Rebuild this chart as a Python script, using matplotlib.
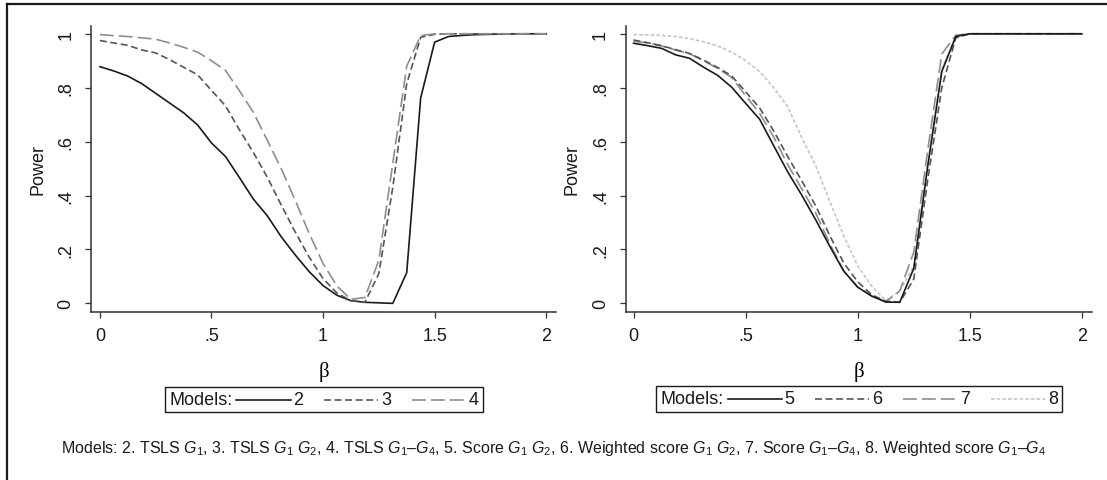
#!/usr/bin/env python3
"""Power curves for TSLS and score tests, two panels."""

import matplotlib
matplotlib.use("Agg")
import matplotlib.pyplot as plt
from matplotlib.lines import Line2D
from matplotlib.offsetbox import AnchoredOffsetbox, HPacker, TextArea, DrawingArea

# beta grid (step 1/16)
beta = [0, 0.0625, 0.125, 0.1875, 0.25, 0.3125, 0.375, 0.4375, 0.5, 0.5625,
        0.625, 0.6875, 0.75, 0.8125, 0.875, 0.9375, 1.0, 1.0625, 1.125, 1.1875,
        1.25, 1.3125, 1.375, 1.4375, 1.5, 1.5625, 1.625, 1.6875, 1.75, 1.8125,
        1.875, 1.9375, 2.0]

# left panel
model2 = [0.878, 0.862, 0.843, 0.815, 0.779, 0.743, 0.707, 0.662, 0.595, 0.545,
          0.467, 0.387, 0.325, 0.247, 0.180, 0.118, 0.066, 0.030, 0.010, 0.004,
          0.002, 0.000, 0.114, 0.762, 0.969, 0.990, 0.994, 0.997, 0.998, 0.999,
          1.0, 1.0, 1.0]
model3 = [0.975, 0.966, 0.957, 0.940, 0.929, 0.904, 0.876, 0.848, 0.790, 0.733,
          0.644, 0.560, 0.468, 0.365, 0.265, 0.172, 0.092, 0.038, 0.010, 0.004,
          0.110, 0.430, 0.815, 0.987, 0.998, 1.0, 1.0, 1.0, 1.0, 1.0,
          1.0, 1.0, 1.0]
model4 = [0.997, 0.993, 0.990, 0.985, 0.980, 0.966, 0.950, 0.932, 0.900, 0.864,
          0.789, 0.709, 0.605, 0.500, 0.383, 0.260, 0.148, 0.064, 0.015, 0.022,
          0.160, 0.520, 0.880, 0.993, 1.0, 1.0, 1.0, 1.0, 1.0, 1.0,
          1.0, 1.0, 1.0]

# right panel
model5 = [0.965, 0.956, 0.946, 0.922, 0.909, 0.876, 0.846, 0.802, 0.742, 0.683,
          0.585, 0.488, 0.402, 0.310, 0.212, 0.120, 0.060, 0.027, 0.005, 0.004,
          0.130, 0.510, 0.860, 0.990, 1.0, 1.0, 1.0, 1.0, 1.0, 1.0,
          1.0, 1.0, 1.0]
model6 = [0.977, 0.967, 0.956, 0.941, 0.927, 0.902, 0.875, 0.844, 0.785, 0.725,
          0.640, 0.545, 0.455, 0.362, 0.252, 0.150, 0.080, 0.032, 0.008, 0.004,
          0.090, 0.460, 0.800, 0.985, 1.0, 1.0, 1.0, 1.0, 1.0, 1.0,
          1.0, 1.0, 1.0]
model7 = [0.973, 0.966, 0.955, 0.940, 0.926, 0.900, 0.872, 0.838, 0.770, 0.705,
          0.618, 0.515, 0.425, 0.335, 0.222, 0.120, 0.060, 0.027, 0.006, 0.046,
          0.190, 0.570, 0.925, 0.995, 1.0, 1.0, 1.0, 1.0, 1.0, 1.0,
          1.0, 1.0, 1.0]
model8 = [0.997, 0.996, 0.994, 0.990, 0.982, 0.970, 0.955, 0.932, 0.900, 0.860,
          0.800, 0.730, 0.615, 0.510, 0.380, 0.250, 0.139, 0.064, 0.010, 0.046,
          0.140, 0.520, 0.870, 0.990, 1.0, 1.0, 1.0, 1.0, 1.0, 1.0,
          1.0, 1.0, 1.0]

xticks = [0, 0.5, 1, 1.5, 2]
xticklabels = ["0", ".5", "1", "1.5", "2"]
yticks = [0, 0.2, 0.4, 0.6, 0.8, 1.0]
yticklabels = ["0", ".2", ".4", ".6", ".8", "1"]

caption = ("Models: 2. TSLS $G_\\mathrm{1}$, 3. TSLS $G_\\mathrm{1}$ $G_\\mathrm{2}$, "
           "4. TSLS $G_\\mathrm{1}$\u2013$G_\\mathrm{4}$, 5. Score $G_\\mathrm{1}$ $G_\\mathrm{2}$, "
           "6. Weighted score $G_\\mathrm{1}$ $G_\\mathrm{2}$, 7. Score $G_\\mathrm{1}$\u2013$G_\\mathrm{4}$, "
           "8. Weighted score $G_\\mathrm{1}$\u2013$G_\\mathrm{4}$")

plt.rcParams["font.family"] = ["Liberation Sans", "DejaVu Sans"]
plt.rcParams["mathtext.fontset"] = "custom"
plt.rcParams["mathtext.it"] = "Liberation Sans:italic"
plt.rcParams["mathtext.rm"] = "Liberation Sans"
plt.rcParams["lines.scale_dashes"] = False

# Stata-like line looks
STYLES = {
    "solid": dict(color="#1a1a1a", linestyle="-"),
    "dash": dict(color="#555555", linestyle=(0, (5.0, 2.6))),
    "longdash": dict(color="#8e8e8e", linestyle=(0, (10.0, 3.6))),
    "shortdash": dict(color="#c6c6c6", linestyle=(0, (2.6, 1.5))),
}
LW = 1.2
AX_COLOR = "#333333"

W, H = 1107, 481
fig = plt.figure(figsize=(W / 100, H / 100), dpi=100)


def px_axes(x0, x1, y_top, y_bot):
    return fig.add_axes([x0 / W, 1 - y_bot / H, (x1 - x0) / W, (y_bot - y_top) / H])


def style_axes(ax, xlim):
    ax.set_xlim(*xlim)
    ax.set_ylim(-0.032, 1.030)
    for s in ("top", "right"):
        ax.spines[s].set_visible(False)
    for s in ("left", "bottom"):
        ax.spines[s].set_color(AX_COLOR)
        ax.spines[s].set_linewidth(1.1)
    ax.set_xticks(xticks)
    ax.set_xticklabels(xticklabels)
    ax.set_yticks(yticks)
    ax.set_yticklabels(yticklabels, rotation=90, va="center")
    ax.tick_params(axis="both", direction="out", length=4, width=0.9,
                   color=AX_COLOR, labelsize=13, labelcolor="#1a1a1a")
    ax.tick_params(axis="x", pad=7)
    ax.tick_params(axis="y", pad=8)
    ax.set_ylabel("Power", fontsize=13, labelpad=8, color="#1a1a1a")
    ax.set_xlabel("\u03b2", fontsize=15, family="Liberation Serif", labelpad=12)


def model_legend(series, center_px):
    items = [TextArea("Models:", textprops=dict(fontsize=13, color="#1a1a1a"))]
    for i, (label, style) in enumerate(series):
        lead = 1 if i == 0 else 13
        da = DrawingArea(lead + 39, 10)
        da.add_artist(Line2D([lead, lead + 39], [5, 5], lw=LW, **STYLES[style]))
        items.append(da)
        items.append(TextArea(label, textprops=dict(fontsize=13, color="#1a1a1a")))
    box = HPacker(children=items, align="center", pad=0, sep=2)
    anch = AnchoredOffsetbox(loc="center", child=box, pad=0.3, borderpad=0,
                             frameon=True,
                             bbox_to_anchor=(center_px[0] / W, 1 - center_px[1] / H),
                             bbox_transform=fig.transFigure)
    anch.patch.set_boxstyle("square", pad=0)
    anch.patch.set_edgecolor("#1a1a1a")
    anch.patch.set_linewidth(1.0)
    fig.add_artist(anch)


# left panel: TSLS
ax1 = px_axes(91, 556, 26.7, 313)
style_axes(ax1, (-0.040, 2.044))
left_series = [("2", model2, "solid"), ("3", model3, "dash"), ("4", model4, "longdash")]
for label, vals, st in left_series:
    ax1.plot(beta, vals, lw=LW, **STYLES[st])

# right panel: score tests
ax2 = px_axes(625.7, 1092, 26.7, 313)
style_axes(ax2, (-0.035, 2.045))
right_series = [("5", model5, "solid"), ("6", model6, "dash"),
                ("7", model7, "longdash"), ("8", model8, "shortdash")]
# draw lightest first so darker ones sit on top
for label, vals, st in reversed(right_series):
    ax2.plot(beta, vals, lw=LW, **STYLES[st])

model_legend([(l, s) for l, _, s in left_series], (324, 400.5))
model_legend([(l, s) for l, _, s in right_series], (859, 400))

fig.text(554 / W, 1 - 449 / H, caption, ha="center", va="center", fontsize=11.5,
         color="#1a1a1a")

# outer frame (top and left edges only, as in the source figure)
fig.add_artist(Line2D([7 / W, 1.0], [1 - 5 / H, 1 - 5 / H], transform=fig.transFigure,
                      color="#1a1a1a", lw=1.6))
fig.add_artist(Line2D([7 / W, 7 / W], [1 - 5 / H, 0.0], transform=fig.transFigure,
                      color="#1a1a1a", lw=1.6))

fig.savefig("out.png", dpi=100)
